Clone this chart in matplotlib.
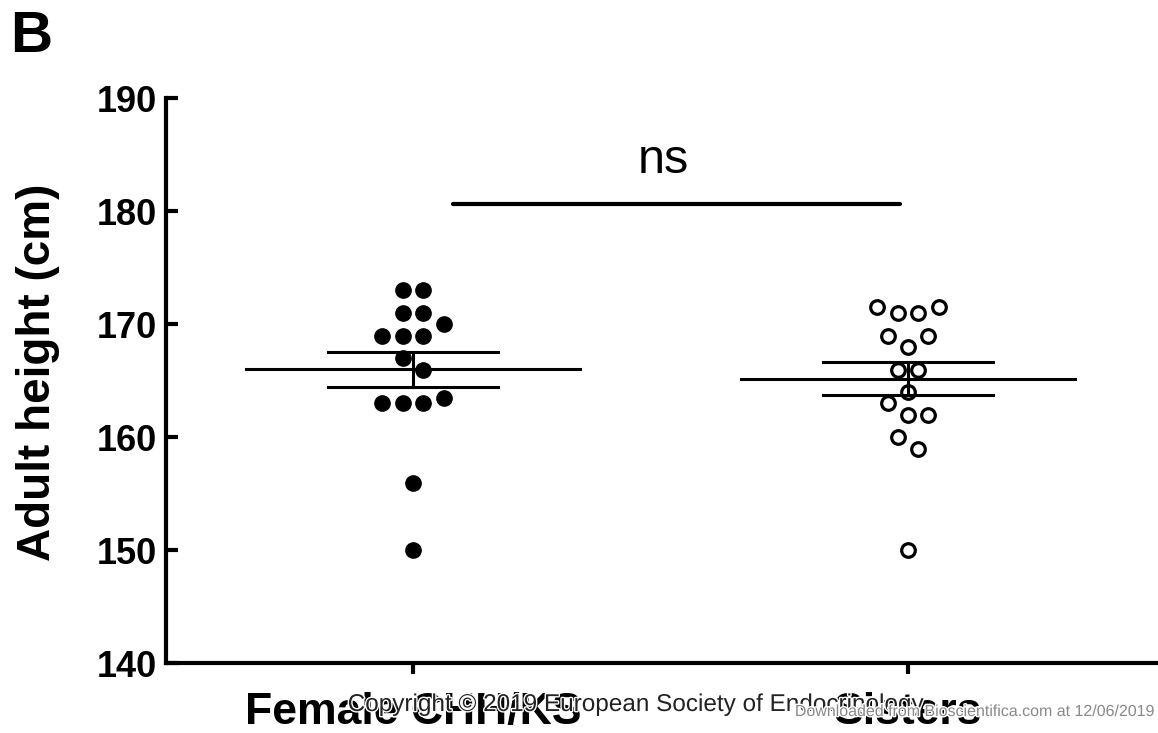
import matplotlib
matplotlib.use('Agg')
import matplotlib.pyplot as plt
import matplotlib.patheffects as pe
import numpy as np

plt.rcParams['font.family'] = ['Liberation Sans', 'DejaVu Sans']

# group names
groups = ['Female CHH/KS', 'Sisters']

# adult heights (cm)
female_heights = [173, 173, 171, 171, 170, 169, 169, 169, 167, 166,
                  163.5, 163, 163, 163, 156, 150]
sister_heights = [171.5, 171, 171, 171.5, 169, 169, 168, 166, 166, 164,
                  163, 162, 162, 160, 159, 150]

# y axis ticks
y_ticks = [140, 150, 160, 170, 180, 190]

# layout only: horizontal dot column of each point (in dot widths)
female_cols = [-0.5, 0.5, -0.5, 0.5, 1.5, -1.5, -0.5, 0.5, -0.5, 0.5,
               1.5, -1.5, -0.5, 0.5, 0, 0]
sister_cols = [-1.5, -0.5, 0.5, 1.5, -1, 1, 0, -0.5, 0.5, 0,
               -1, 0, 1, -0.5, 0.5, 0]
col_w = 0.0412


def main():
    fig = plt.figure(figsize=(11.58, 7.33), dpi=100)
    ax = fig.add_axes([165.5 / 1158, 1 - 663.3 / 733, 990 / 1158, 565 / 733])

    data = [np.array(female_heights), np.array(sister_heights)]
    cols = [np.array(female_cols), np.array(sister_cols)]

    for i, (vals, c) in enumerate(zip(data, cols)):
        xpos = i + 1
        mean = vals.mean()
        sem = vals.std(ddof=1) / np.sqrt(len(vals))

        # mean line and sem bars
        ax.plot([xpos - 0.337, xpos + 0.337], [mean, mean], color='black', lw=2.2, zorder=2)
        for yy in (mean - sem, mean + sem):
            ax.plot([xpos - 0.171, xpos + 0.171], [yy, yy], color='black', lw=2.2, zorder=2)
        ax.plot([xpos, xpos], [mean - sem, mean + sem], color='black', lw=2.2, zorder=2)

        if i == 0:
            ax.plot(xpos + c * col_w, vals, 'o', color='black', ms=11,
                    linestyle='none', zorder=3)
        else:
            ax.plot(xpos + c * col_w, vals, 'o', mfc='none', mec='black', mew=2.3,
                    ms=9.8, linestyle='none', zorder=3)

    # significance bar
    ax.plot([1.081, 1.984], [180.65, 180.65], color='black', lw=3, solid_capstyle='round')
    ax.text(1.505, 183.4, 'ns', ha='center', va='baseline', fontsize=35)

    ax.set_xlim(0.5, 2.5)
    ax.set_ylim(140, 190)
    ax.set_yticks(y_ticks)
    ax.set_xticks([1, 2])
    ax.set_xticklabels(groups, fontsize=32, fontweight='bold')
    for lab in ax.get_yticklabels():
        lab.set_fontsize(26)
        lab.set_fontweight('bold')

    ax.spines['top'].set_visible(False)
    ax.spines['right'].set_visible(False)
    ax.spines['left'].set_linewidth(3)
    ax.spines['bottom'].set_linewidth(3)
    ax.tick_params(axis='y', direction='in', length=8.5, width=3, pad=6)
    ax.tick_params(axis='x', direction='out', length=8, width=3, pad=13)

    fig.text(38 / 1158, 1 - 372.5 / 733, 'Adult height (cm)', rotation=90,
             ha='center', va='center', fontsize=33, fontweight='bold')
    fig.text(10 / 1158, 1 - 52 / 733, 'B', ha='left', va='baseline',
             fontsize=42, fontweight='bold')

    halo = [pe.withStroke(linewidth=2, foreground='white')]
    fig.text(635 / 1158, 1 - 711 / 733, 'Copyright \u00a9 2019 European Society of Endocrinology',
             ha='center', va='baseline', fontsize=17.5, color='#222222', path_effects=halo)
    fig.text(1155 / 1158, 1 - 716 / 733, 'Downloaded from Bioscientifica.com at 12/06/2019',
             ha='right', va='baseline', fontsize=11.5, color='#888888', path_effects=halo)

    fig.savefig('out.png', dpi=100)


if __name__ == "__main__":
    main()
